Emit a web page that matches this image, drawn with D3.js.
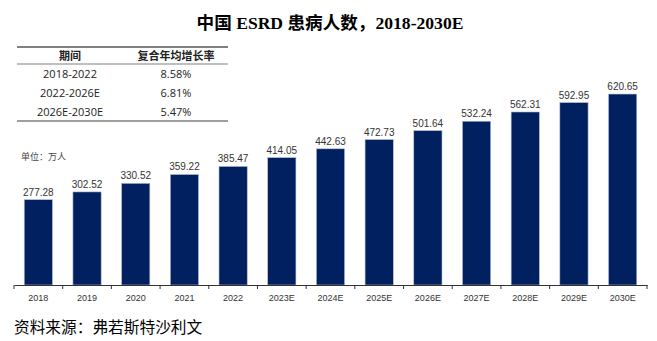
<!DOCTYPE html>
<html><head><meta charset="utf-8">
<script src="https://cdn.jsdelivr.net/npm/d3@7"></script>
<style>body{margin:0;background:#fff;}svg{display:block;}</style>
</head><body>
<script>
const categories = ["2018","2019","2020","2021","2022","2023E","2024E","2025E","2026E","2027E","2028E","2029E","2030E"];
const values = [277.28,302.52,330.52,359.22,385.47,414.05,442.63,472.73,501.64,532.24,562.31,592.95,620.65];
const tableHeader = ["期间","复合年均增长率"];
const tablePeriods = ["2018-2022","2022-2026E","2026E-2030E"];
const tableRates = ["8.58%","6.81%","5.47%"];
const title = "中国 ESRD 患病人数，2018-2030E";
const unitLabel = "单位：万人";
const source = "资料来源：弗若斯特沙利文";

const W = 657, H = 341;
const svg = d3.select("body").append("svg").attr("width", W).attr("height", H);

svg.append("text").attr("x", 330).attr("y", 29).attr("text-anchor","middle")
  .attr("font-family","'Liberation Serif','Noto Sans CJK SC',serif").attr("font-weight","bold")
  .attr("font-size",17.6).attr("fill","#000").text(title);

// table
const tx0 = 17, tx1 = 228;
const colX = [70, 176];
svg.append("line").attr("x1",tx0).attr("x2",tx1).attr("y1",47).attr("y2",47).attr("stroke","#808080").attr("stroke-width",2);
svg.append("line").attr("x1",tx0).attr("x2",tx1).attr("y1",64).attr("y2",64).attr("stroke","#808080").attr("stroke-width",1.2);
svg.append("line").attr("x1",tx0).attr("x2",tx1).attr("y1",121).attr("y2",121).attr("stroke","#404040").attr("stroke-width",1.2);
tableHeader.forEach((h,i)=>{
  svg.append("text").attr("x",colX[i]).attr("y",60).attr("text-anchor","middle")
    .attr("font-family","'Noto Sans CJK SC',sans-serif").attr("font-weight","bold").attr("font-size",11).attr("fill","#222").text(h);
});
const rowY = [78, 97, 116];
tablePeriods.forEach((p,i)=>{
  svg.append("text").attr("x",colX[0]).attr("y",rowY[i]).attr("text-anchor","middle")
    .attr("font-family","'Open Sans',sans-serif").attr("font-size",11).attr("fill","#222").text(p);
  svg.append("text").attr("x",colX[1]).attr("y",rowY[i]).attr("text-anchor","middle")
    .attr("font-family","'Open Sans',sans-serif").attr("font-size",11).attr("fill","#222").text(tableRates[i]);
});

svg.append("text").attr("x",21).attr("y",160).attr("font-family","'Noto Sans CJK SC',sans-serif")
  .attr("font-size",9).attr("fill","#444").text(unitLabel);

// chart
const x = d3.scaleBand().domain(categories).range([14, 647]).paddingInner(0.42).paddingOuter(0.21);
const y = d3.scaleLinear().domain([0, 700]).range([285, 285 - 700*0.3077]);

svg.append("g").selectAll("rect").data(values).join("rect")
  .attr("x",(d,i)=>x(categories[i])).attr("width",x.bandwidth())
  .attr("y",d=>y(d)).attr("height",d=>y(0)-y(d))
  .attr("fill","#002060").attr("stroke","#b8c0d8").attr("stroke-width",0.6);

svg.append("g").selectAll("text").data(values).join("text")
  .attr("x",(d,i)=>x(categories[i])+x.bandwidth()/2).attr("y",d=>y(d)-4)
  .attr("text-anchor","middle").attr("font-family","'Liberation Sans',Arial,sans-serif")
  .attr("font-size",10).attr("fill","#333").text(d=>d.toFixed(2));

const xa = d3.scaleBand().domain(categories).range([14,647]);
const axis = svg.append("g").attr("transform","translate(0,285)")
  .call(d3.axisBottom(xa).tickSize(0).tickPadding(10));
axis.select(".domain").attr("stroke","#333").attr("stroke-width",1);
axis.selectAll("text").attr("font-family","'Liberation Sans',Arial,sans-serif").attr("font-size",9).attr("fill","#333");
// boundary ticks
svg.append("g").selectAll("line").data(d3.range(categories.length+1)).join("line")
  .attr("x1",i=>14+i*xa.step()).attr("x2",i=>14+i*xa.step()).attr("y1",285).attr("y2",289)
  .attr("stroke","#333").attr("stroke-width",1);

svg.append("text").attr("x",14).attr("y",333).attr("font-family","'Liberation Serif','Noto Sans CJK SC',serif")
  .attr("font-size",15.7).attr("fill","#000").text(source);
</script>
</body></html>
